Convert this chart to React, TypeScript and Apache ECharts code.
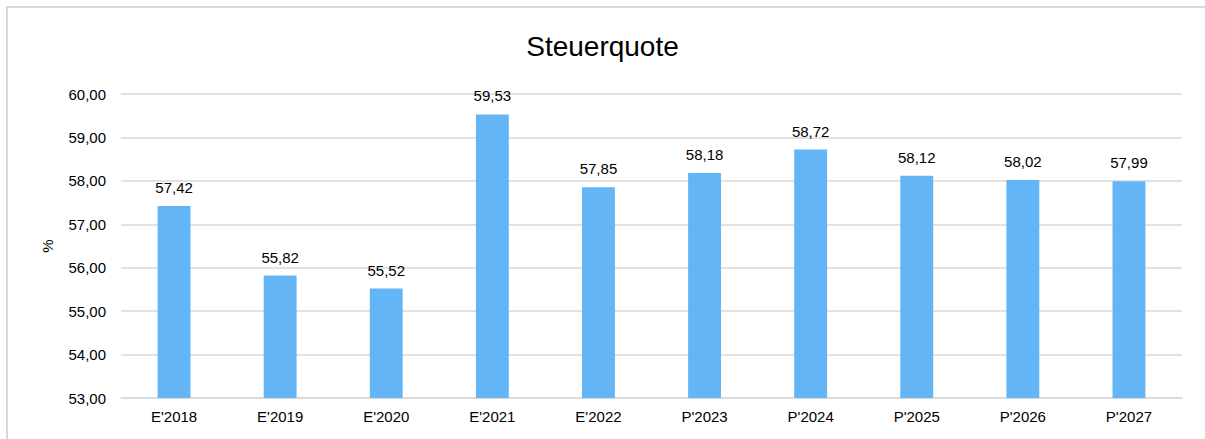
import React, { useEffect, useRef } from "react";
import * as echarts from "echarts";

const categories = ["E'2018", "E'2019", "E'2020", "E'2021", "E'2022", "P'2023", "P'2024", "P'2025", "P'2026", "P'2027"];
const values = [57.42, 55.82, 55.52, 59.53, 57.85, 58.18, 58.72, 58.12, 58.02, 57.99];
const title = "Steuerquote";
const yName = "%";

const fmt = (v: number) => v.toFixed(2).replace(".", ",");
const FONT = "'Liberation Sans', Arial, sans-serif";

export default function App() {
  const ref = useRef<HTMLDivElement>(null);
  useEffect(() => {
    if (!ref.current) return;
    const chart = echarts.init(ref.current, undefined, { renderer: "svg" });
    chart.setOption({
      animation: false,
      backgroundColor: "#ffffff",
      textStyle: { fontFamily: FONT },
      title: {
        text: title,
        left: "center",
        top: 27,
        textStyle: { fontFamily: FONT, fontSize: 28, fontWeight: "normal", color: "#000" },
      },
      graphic: [
        {
          type: "rect",
          shape: { x: 7, y: 7, width: 1400, height: 600 },
          style: { fill: "none", stroke: "#d9d9d9", lineWidth: 2 },
          silent: true,
        },
      ],
      grid: { left: 121, right: 23, top: 94, bottom: 41, containLabel: false },
      xAxis: {
        type: "category",
        data: categories,
        axisLine: { show: true, lineStyle: { color: "#d9d9d9", width: 1.5 } },
        axisTick: { show: false },
        axisLabel: { fontFamily: FONT, fontSize: 15, color: "#000", margin: 11 },
      },
      yAxis: {
        type: "value",
        min: 53,
        max: 60,
        interval: 1,
        name: yName,
        nameLocation: "middle",
        nameGap: 66,
        nameTextStyle: { fontFamily: FONT, fontSize: 15, color: "#000" },
        axisLine: { show: false },
        axisTick: { show: false },
        axisLabel: { fontFamily: FONT, fontSize: 15, color: "#000", margin: 15, formatter: (v: number) => fmt(v) },
        splitLine: { lineStyle: { color: "#d9d9d9", width: 1.5 } },
      },
      series: [
        {
          type: "bar",
          data: values,
          barWidth: "31%",
          itemStyle: { color: "#64b5f6" },
          label: {
            show: true,
            position: "top",
            distance: 11,
            fontFamily: FONT,
            fontSize: 15,
            color: "#000",
            formatter: (p: any) => fmt(p.value),
          },
        },
      ],
    });
    return () => chart.dispose();
  }, []);
  return (
    <div style={{ position: "absolute", left: 0, top: 0, width: 1205, height: 439, overflow: "hidden" }}>
      <div ref={ref} style={{ width: 1205, height: 439 }} />
    </div>
  );
}
